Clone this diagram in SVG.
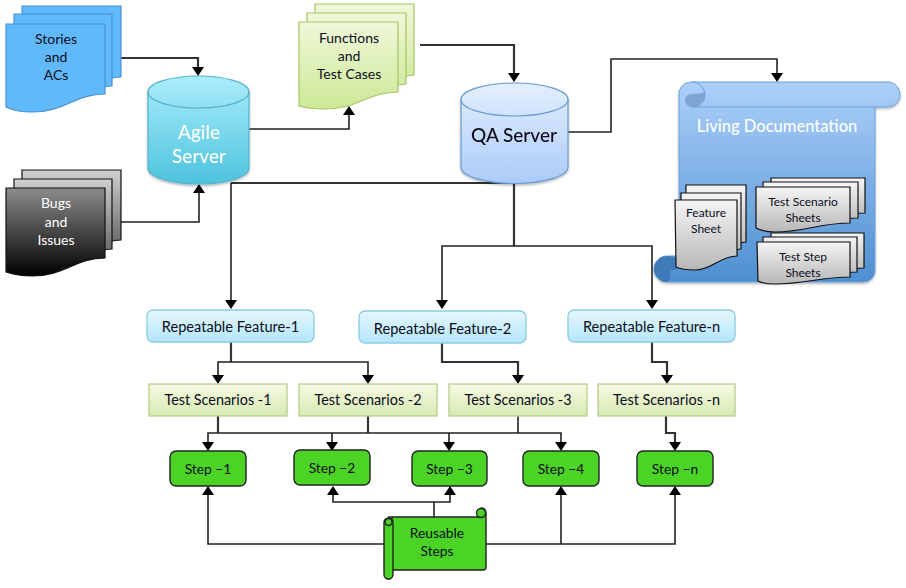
<svg xmlns="http://www.w3.org/2000/svg" width="906" height="588" viewBox="0 0 906 588">
<style>
text{font-family:"Lato","Open Sans","Liberation Sans",sans-serif;text-anchor:middle;fill:#0d0d1c}
.doc{font-size:14px}
.w{fill:#fff}
.fe{font-size:14.600px}
.ts{font-size:14.400px}
.sh{font-size:12px}
.st{font-size:13.800px}
.big{font-size:19px;font-weight:500}
.con path{fill:none;stroke:#222;stroke-width:1.6}
.con .thick{stroke:#333;stroke-width:2.200}
.con .arr{fill:#000;stroke:none}
.blue{fill:#60b9fb;stroke:#4b8fd0;stroke-width:1.2}
.gf{fill:url(#gGreen);stroke:#a9c463;stroke-width:1.2}
.bk{fill:url(#gBlack);stroke:#111;stroke-width:1.2}
.bk2{fill:url(#gGrey);stroke:#111;stroke-width:1.2}
.sheet{fill:url(#gSheet);stroke:#111;stroke-width:1.2}
.fbox{fill:url(#gFeat);stroke:#8ccbe2;stroke-width:1.3}
.tbox{fill:url(#gTs);stroke:#b9cd8b;stroke-width:1.3}
.sbox{fill:#4bd426;stroke:#222;stroke-width:1.4}
</style>
<defs>
<linearGradient id="gGreen" x1="0" y1="0" x2="0" y2="1"><stop offset="0" stop-color="#f0f8da"/><stop offset="1" stop-color="#cce896"/></linearGradient>
<linearGradient id="gBlack" x1="0" y1="0" x2="0" y2="1"><stop offset="0" stop-color="#8c8c8c"/><stop offset="1" stop-color="#000"/></linearGradient>
<linearGradient id="gGrey" x1="0" y1="0" x2="0" y2="1"><stop offset="0" stop-color="#cfcfcf"/><stop offset="1" stop-color="#555"/></linearGradient>
<linearGradient id="gSheet" x1="0" y1="0" x2="0" y2="1"><stop offset="0" stop-color="#f5f5f5"/><stop offset="1" stop-color="#b8b8b8"/></linearGradient>
<linearGradient id="gAgile" x1="0" y1="0" x2="0" y2="1"><stop offset="0" stop-color="#abedfb"/><stop offset="1" stop-color="#4dc3de"/></linearGradient>
<linearGradient id="gQa" x1="0" y1="0" x2="0" y2="1"><stop offset="0" stop-color="#e3effe"/><stop offset="1" stop-color="#abcbf8"/></linearGradient>
<linearGradient id="gDoc" x1="0" y1="0" x2="0" y2="1"><stop offset="0" stop-color="#acd0fa"/><stop offset="1" stop-color="#4e8fd1"/></linearGradient>
<linearGradient id="gFeat" x1="0" y1="0" x2="0" y2="1"><stop offset="0" stop-color="#e6f7fd"/><stop offset="1" stop-color="#b3e6fb"/></linearGradient>
<linearGradient id="gTs" x1="0" y1="0" x2="0" y2="1"><stop offset="0" stop-color="#f6fae4"/><stop offset="1" stop-color="#d8eab2"/></linearGradient>
<filter id="shadow" x="-10%" y="-10%" width="120%" height="125%"><feDropShadow dx="0" dy="1.5" stdDeviation="1.2" flood-color="#000" flood-opacity="0.3"/></filter>
</defs>

<g id="connectors" class="con">
<path class="thick" d="M121 58H198V70"/><path class="arr" d="M192 67H204L198 76Z"/>
<path d="M121 222H199V192"/><path class="arr" d="M193 193H205L199 184Z"/>
<path d="M249 129H349V114"/><path class="arr" d="M343 115H355L349 106Z"/>
<path class="thick" d="M420 45H514V76"/><path class="arr" d="M508 73H520L514 82Z"/>
<path d="M568 132H611V59H777V76"/><path class="arr" d="M771 73H783L777 82Z"/>
<path class="thick" d="M514 183H231"/><path d="M231 183V304"/><path class="arr" d="M225 300H237L231 309Z"/>
<path class="thick" d="M514 183V246"/><path d="M442 304V246H652V304"/>
<path class="arr" d="M436 300H448L442 309Z"/><path class="arr" d="M646 300H658L652 309Z"/>
<path class="thick" d="M231 342V362"/><path d="M218 378V362H368V378"/>
<path class="arr" d="M212 375H224L218 384Z"/><path class="arr" d="M362 375H374L368 384Z"/>
<path class="thick" d="M442 343V362H518V378"/><path class="arr" d="M512 375H524L518 384Z"/>
<path class="thick" d="M652 342V362H667V378"/><path class="arr" d="M661 375H673L667 384Z"/>
<path class="thick" d="M218 416V433"/><path class="thick" d="M368 416V433"/><path d="M518 416V433"/>
<path d="M208 445V433H561V445"/><path d="M332 433V445"/><path d="M449 433V445"/>
<path class="arr" d="M202 442H214L208 451Z"/><path class="arr" d="M326 442H338L332 451Z"/><path class="arr" d="M443 442H455L449 451Z"/><path class="arr" d="M555 442H567L561 451Z"/>
<path class="thick" d="M666 416V433H675V445"/><path class="arr" d="M669 442H681L675 451Z"/>
<path d="M384 544H208V493"/><path class="arr" d="M202 495H214L208 486Z"/>
<path d="M486 544H675V493"/><path class="arr" d="M669 495H681L675 486Z"/>
<path d="M561 544V493"/><path class="arr" d="M555 495H567L561 486Z"/>
<path d="M434 517V502"/><path d="M333 493V502H450V493"/>
<path class="arr" d="M327 495H339L333 486Z"/><path class="arr" d="M444 495H456L450 486Z"/>
</g>

<g id="stories">
<path class="blue" d="M22 6H121V77C100 77 90 95 55 95H22Z"/>
<path class="blue" d="M14 14H112V86C92 86 82 104 47 104H14Z"/>
<path class="blue" d="M6 24H105V94C75 94 65 112 32 112C20 112 12 110 6 107Z"/>
<text class="doc" x="56" y="44">Stories</text><text class="doc" x="56" y="62">and</text><text class="doc" x="56" y="80">ACs</text>
</g>

<g id="bugs">
<path class="bk2" d="M22 170H121V240C100 240 90 258 55 258H22Z"/>
<path class="bk2" d="M14 179H112V249C92 249 82 267 47 267H14Z"/>
<path class="bk" d="M6 188H105V258C75 258 65 276 32 276C20 276 12 274 6 272Z"/>
<text class="doc w" x="56" y="208">Bugs</text><text class="doc w" x="56" y="227">and</text><text class="doc w" x="56" y="245">Issues</text>
</g>

<g id="agile-server" filter="url(#shadow)">
<path d="M148 92A50.5 16 0 0 1 249 92V168A50.5 16 0 0 1 148 168Z" fill="url(#gAgile)" stroke="#55b4cc" stroke-width="1.2"/>
<path d="M148 92A50.5 16 0 0 0 249 92" fill="none" stroke="#55b4cc" stroke-width="1.2"/>
<text class="w big" x="199" y="139">Agile</text><text class="w big" x="199" y="163">Server</text>
</g>

<g id="functions">
<path class="gf" d="M315 4H414V75C394 75 384 92 350 92H315Z"/>
<path class="gf" d="M307 13H406V84C386 84 376 100 342 100H307Z"/>
<path class="gf" d="M299 22H398V92C368 92 358 109 325 109C313 109 305 108 299 106Z"/>
<text class="doc" x="349" y="43">Functions</text><text class="doc" x="349" y="61">and</text><text class="doc" x="349" y="79">Test Cases</text>
</g>

<g id="qa-server" filter="url(#shadow)">
<path d="M461 99.500A53.500 16.500 0 0 1 568 99.500V167A53.500 16.500 0 0 1 461 167Z" fill="url(#gQa)" stroke="#6a9bd0" stroke-width="1.2"/>
<path d="M461 99.500A53.500 16.500 0 0 0 568 99.500" fill="none" stroke="#6a9bd0" stroke-width="1.2"/>
<text class="big" x="514" y="142">QA Server</text>
</g>

<g id="living-documentation">
<path filter="url(#shadow)" d="M679 94C679 87 685 82 692 82H888C895 82 900 88 900 95C900 102 894 107 887 107H875V270C875 277 870 282 863 282H667C660 282 654 276 654 269C654 262 660 256 667 256H679Z" fill="url(#gDoc)" stroke="#6d9fd8" stroke-width="1"/>
<path d="M685 100C685 96 689 94 693 94C698 94 702 93 705 92C705.500 100 700 107 692 107C688 107 685 104 685 100Z" fill="#7ea4d4"/>
<path d="M692 82C699 82 705 88 705 95C705 102 699 107 692 107H875" fill="none" stroke="#6d9fd8" stroke-width="1"/>
<path d="M667 256C672 256 679 258 679 264C679 268 676 270 673 270C671 270 670 269 670 268C670 274 672 278 667 282C660 282 654 276 654 269C654 262 660 256 667 256Z" fill="#3f7bb8"/>
<text class="w" x="777" y="132" font-size="16.500" font-weight="500">Living Documentation</text>
<g id="feature-sheet">
<path class="sheet" d="M686 185H746V242C736 242 730 250 710 250H686Z"/>
<path class="sheet" d="M681 193H741V249C731 249 725 258 705 258H681Z"/>
<path class="sheet" d="M675 200H737V256C720 256 712 270 695 270C686 270 680 269 676 267Z"/>
<text class="sh" x="706" y="217">Feature</text><text class="sh" x="706" y="233">Sheet</text>
</g>
<g id="test-scenario-sheets">
<path class="sheet" d="M771 178H865V213C840 213 830 219 800 219H771Z"/>
<path class="sheet" d="M763 182H858V218C833 218 823 224 793 224H763Z"/>
<path class="sheet" d="M756 187H850V223C820 223 805 232 775 232C766 232 760 230 756 228Z"/>
<text class="sh" x="803" y="206">Test Scenario</text><text class="sh" x="803" y="222">Sheets</text>
</g>
<g id="test-step-sheets">
<path class="sheet" d="M771 233H864V268C840 268 830 273 800 273H771Z"/>
<path class="sheet" d="M763 237H857V272C833 272 823 278 793 278H763Z"/>
<path class="sheet" d="M757 242H850V277C820 277 805 284 775 284C768 284 762 283 758 281Z"/>
<text class="sh" x="803" y="261">Test Step</text><text class="sh" x="803" y="277">Sheets</text>
</g>
</g>

<g id="feature-1"><rect class="fbox" x="147" y="310" width="167" height="32" rx="6"/><text class="fe" x="230.500" y="332">Repeatable Feature-1</text></g>
<g id="feature-2"><rect class="fbox" x="359" y="311" width="167" height="32" rx="6"/><text class="fe" x="442.500" y="334">Repeatable Feature-2</text></g>
<g id="feature-n"><rect class="fbox" x="568" y="310" width="167" height="32" rx="6"/><text class="fe" x="651.500" y="332">Repeatable Feature-n</text></g>

<g id="scenario-1"><rect class="tbox" x="149" y="384" width="138" height="32"/><text class="ts" x="218" y="405">Test Scenarios -1</text></g>
<g id="scenario-2"><rect class="tbox" x="299" y="384" width="138" height="32"/><text class="ts" x="368" y="405">Test Scenarios -2</text></g>
<g id="scenario-3"><rect class="tbox" x="449" y="384" width="138" height="32"/><text class="ts" x="518" y="405">Test Scenarios -3</text></g>
<g id="scenario-n"><rect class="tbox" x="598" y="384" width="137" height="32"/><text class="ts" x="666.500" y="405">Test Scenarios -n</text></g>

<g id="step-1"><rect class="sbox" x="170" y="451" width="76" height="35" rx="6"/><text class="st" x="208" y="474">Step −1</text></g>
<g id="step-2"><rect class="sbox" x="294" y="450" width="76" height="35" rx="6"/><text class="st" x="332" y="473">Step −2</text></g>
<g id="step-3"><rect class="sbox" x="412" y="451" width="75" height="35" rx="6"/><text class="st" x="449.500" y="474">Step −3</text></g>
<g id="step-4"><rect class="sbox" x="523" y="451" width="76" height="35" rx="6"/><text class="st" x="561" y="474">Step −4</text></g>
<g id="step-n"><rect class="sbox" x="637" y="451" width="76" height="35" rx="6"/><text class="st" x="675" y="474">Step −n</text></g>

<g id="reusable-steps">
<path class="sbox" d="M388 517H478V513A3.500 4.500 0 0 1 486 513V567A3 3 0 0 1 483 570H392V517Z"/>
<circle class="sbox" cx="481" cy="513" r="4.500"/>
<rect class="sbox" x="384" y="518" width="9" height="61" rx="4.500"/>
<circle class="sbox" cx="388.500" cy="522" r="3.500"/>
<text class="st" x="437" y="538">Reusable</text><text class="st" x="437" y="556">Steps</text>
</g>
</svg>
